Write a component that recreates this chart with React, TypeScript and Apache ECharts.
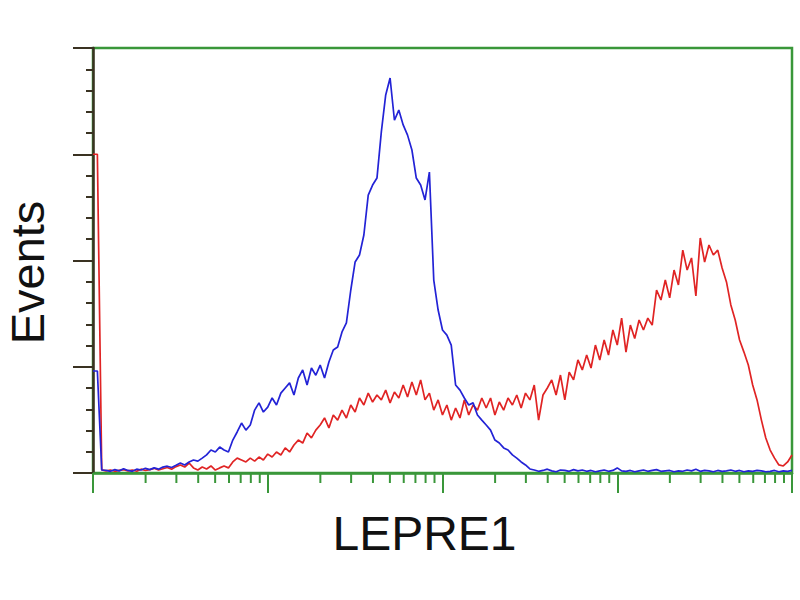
import React, { useEffect, useRef } from "react";
import * as echarts from "echarts";

// histogram bins: log decades 0..4, one bin every 0.025 decade
const binStep = 0.025;

const blueCounts = [
  48, 48, 1.4,
  1.2, 0.8, 1.6, 1, 2, 1.2, 0.8, 1.8, 1.4, 2.2, 1.6, 2.4, 1.8, 2.8, 3.2, 2.6, 3.6,
  4.7, 3.8, 5.2, 6.1, 5.6, 7, 8.5, 10.8, 9.9, 12.2, 10.8,
  9.9, 15.5, 19.3, 23.5, 20.2, 22.6, 29.6, 33, 28.7, 31,
  35.3, 32, 37.6, 40, 42.4, 36.7, 44.7, 48.5, 41.4, 49.4,
  46, 50.8, 44.7, 52.2, 57.9, 59.3, 66.4, 70.6, 86, 99.3,
  102.6, 112, 130.8, 135.5, 138.8, 160.5, 177.9, 185.9, 166, 170.8,
  163.8, 159, 152, 138.8, 135.5, 128.5, 141.6, 90.8, 76.7, 67.3,
  64.9, 60.2, 41.4, 39, 35.3, 32, 33, 27.3, 24.9, 22.6,
  20.2, 15.5, 14.1, 11.8, 10.8, 8.5, 7, 5.2, 3.8, 1.9,
  1.4, 0.8, 1.2, 1.8, 1, 0.6, 1.4, 1.2, 0.8, 1.6,
  1, 1.4, 0.8, 1.2, 0.6, 1, 1.4, 0.8, 1.2, 2.4,
  1, 0.8, 1.2, 0.6, 1, 1.4, 0.8, 1.2, 1.6, 0.8,
  1, 1.2, 0.6, 1, 0.8, 1.4, 1, 1.8, 0.8, 1.2,
  1, 0.6, 1.2, 0.8, 1, 1.4, 0.8, 1.2, 0.6, 1,
  0.8, 1.2, 1, 0.6, 0.8, 1.2, 0.6, 1, 0.8, 1.2,
];

const redCounts = [
  150, 150, 1.5,
  1, 1.4, 0.8, 1.2, 1.6, 1, 1.4, 0.8, 1.8, 1.2, 1.6, 2.2, 1.4, 2, 2.6, 1.8, 3,
  3.8, 2.8, 4.7, 2.4, 1.4, 2.8, 1.9, 3.3, 1.4, 2.4, 3.3,
  2.4, 5.2, 7, 6.1, 5.2, 7, 5.6, 7.5, 6.1, 8.9,
  7.5, 9.9, 8.5, 11.8, 9.9, 13.2, 15.5, 14.1, 18.8, 16.5,
  20.2, 22.6, 25.9, 21.2, 27.3, 24.9, 29.6, 25.9, 32, 28.7,
  35.3, 32, 37.6, 33.4, 36.7, 34.4, 39, 33, 38.1, 35.3,
  41.4, 35.8, 42.8, 36.7, 43.8, 34.4, 37.6, 29.6, 34.4, 27.3,
  32, 24.9, 30.6, 25.9, 34.4, 27.3, 32, 29.6, 35.3, 30.6,
  35.3, 27.3, 33.4, 29.6, 35.3, 32, 36.7, 30.6, 37.6, 34.4,
  41.4, 24.9, 36.7, 40, 43.8, 36.7, 46.1, 34.4, 47.5, 43.8,
  53.2, 48.5, 55.5, 49.4, 60.2, 53.2, 62.6, 55.5, 67.3, 60.2,
  72.9, 56.9, 69.6, 63.3, 72, 67.3, 72.9, 69.6, 86.1, 81.4,
  90.8, 82.4, 95.5, 88.5, 104.9, 95.5, 101.2, 83.3, 110.6, 99.3,
  107.3, 102.6, 104.9, 96.5, 89.9, 79.1, 72, 62.6, 56.9, 50.8,
  41.4, 34.4, 24.9, 16.5, 10.8, 7, 3.8, 3.3, 5.2, 8.5,
];

const decades = [0, 1, 2, 3];
const minorMultipliers = [2, 3, 4, 5, 6, 7, 8, 9];

const GREEN = "#3a973a";
const AXIS_DARK = "#3a3222";
const RED = "#e02424";
const BLUE = "#2323d6";

export default function App() {
  const ref = useRef<HTMLDivElement>(null);

  useEffect(() => {
    if (!ref.current) return;
    const chart = echarts.init(ref.current, undefined, { renderer: "svg" });

    const toPairs = (arr: number[]) => arr.map((v, i) => [i * binStep, v]);
    const minorTicks: number[][] = [];
    decades.forEach((d) =>
      minorMultipliers.forEach((m) => minorTicks.push([d + Math.log10(m), 0]))
    );

    chart.setOption({
      animation: false,
      backgroundColor: "#ffffff",
      grid: {
        left: 93,
        right: 8,
        top: 48,
        bottom: 127,
        show: true,
        borderColor: GREEN,
        borderWidth: 2.5,
        backgroundColor: "transparent",
        containLabel: false,
        outerBoundsMode: "none",
      },
      xAxis: {
        type: "value",
        min: 0,
        max: 4,
        interval: 1,
        name: "LEPRE1",
        nameLocation: "middle",
        nameGap: 36,
        nameTextStyle: {
          fontFamily: "Liberation Sans",
          fontSize: 48,
          color: "#111",
          padding: [0, 36, 0, 0],
        },
        axisLine: { show: true, lineStyle: { color: GREEN, width: 2.5 } },
        axisTick: {
          show: true,
          inside: false,
          length: 20,
          lineStyle: { color: GREEN, width: 2 },
        },
        axisLabel: { show: false },
        splitLine: { show: false },
      },
      yAxis: {
        type: "value",
        min: 0,
        max: 200,
        interval: 50,
        name: "Events",
        nameLocation: "middle",
        nameRotate: 90,
        nameGap: 42,
        nameTextStyle: {
          fontFamily: "Liberation Sans",
          fontSize: 47,
          lineHeight: 47,
          color: "#111",
          padding: [0, 24, 0, 0],
        },
        axisLine: { show: true, lineStyle: { color: AXIS_DARK, width: 2.5 } },
        axisTick: {
          show: true,
          inside: false,
          length: 20,
          lineStyle: { color: AXIS_DARK, width: 2 },
        },
        minorTick: {
          show: true,
          splitNumber: 5,
          length: 7,
          lineStyle: { color: AXIS_DARK, width: 2 },
        },
        axisLabel: { show: false },
        splitLine: { show: false },
        minorSplitLine: { show: false },
      },
      series: [
        {
          type: "line",
          data: toPairs(redCounts),
          showSymbol: false,
          lineStyle: { color: RED, width: 1.7 },
          z: 3,
        },
        {
          type: "line",
          data: toPairs(blueCounts),
          showSymbol: false,
          lineStyle: { color: BLUE, width: 1.7 },
          z: 4,
        },
        {
          type: "custom",
          data: minorTicks,
          clip: false,
          silent: true,
          z: 5,
          renderItem: (_params: any, api: any) => {
            const p = api.coord([api.value(0), 0]);
            return {
              type: "line",
              shape: { x1: p[0], y1: p[1], x2: p[0], y2: p[1] + 10 },
              style: { stroke: GREEN, lineWidth: 2 },
            };
          },
        },
      ],
    });

    return () => chart.dispose();
  }, []);

  return (
    <div
      ref={ref}
      style={{ position: "absolute", left: 0, top: 0, width: 800, height: 600 }}
    />
  );
}
